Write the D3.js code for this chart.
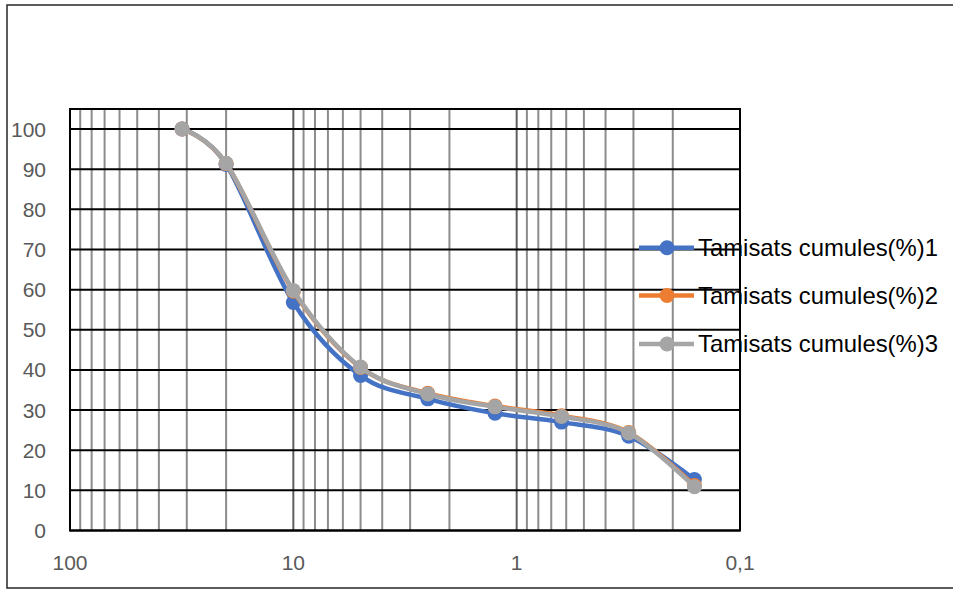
<!DOCTYPE html>
<html lang="fr">
<head>
<meta charset="utf-8">
<title>Tamisats cumules</title>
<script src="https://d3js.org/d3.v7.min.js"></script>
<style>
  body { margin: 0; background: #fff; }
  text { font-family: "Liberation Sans", Arial, sans-serif; }
</style>
</head>
<body>
<script>
// sieve sizes (mm) and cumulative passing (%)
var sizes = [31.5, 20, 10, 5, 2.5, 1.25, 0.63, 0.315, 0.16];
var serie1 = [100, 91.2, 56.8, 38.6, 32.8, 29.2, 27.0, 23.5, 12.7];
var serie2 = [100, 91.4, 59.6, 40.6, 34.2, 31.0, 28.6, 24.4, 11.2];
var serie3 = [100, 91.5, 59.8, 40.7, 34.0, 30.8, 28.4, 24.3, 10.9];
var names = ["Tamisats cumules(%)1", "Tamisats cumules(%)2", "Tamisats cumules(%)3"];
var colors = ["#4472C4", "#ED7D31", "#A5A5A5"];
var xTicks = [100, 10, 1, 0.1];
var xTickLabels = ["100", "10", "1", "0,1"];
var yTicks = [0, 10, 20, 30, 40, 50, 60, 70, 80, 90, 100];

var w = 953, h = 590;
var svg = d3.select("body").append("svg").attr("width", w).attr("height", h);

// outer frame (right side runs off the picture)
svg.append("rect").attr("x", 7).attr("y", 5).attr("width", 960).attr("height", 583)
  .attr("fill", "none").attr("stroke", "#262626").attr("stroke-width", 1.5);

var pLeft = 70, pRight = 740, pTop = 109, pBottom = 530.5;
var x = d3.scaleLog().domain([100, 0.1]).range([pLeft, pRight]);
var y = d3.scaleLinear().domain([0, 105]).range([pBottom, pTop]);

// minor vertical gridlines
var minor = [];
[0.1, 1, 10].forEach(function(d) {
  for (var k = 2; k <= 9; k++) minor.push(d * k);
});
svg.append("g").selectAll("line").data(minor).enter().append("line")
  .attr("x1", d => x(d)).attr("x2", d => x(d)).attr("y1", pTop).attr("y2", pBottom)
  .attr("stroke", "#8c8c8c").attr("stroke-width", 2);
svg.append("g").selectAll("line").data([10, 1]).enter().append("line")
  .attr("x1", d => x(d)).attr("x2", d => x(d)).attr("y1", pTop).attr("y2", pBottom)
  .attr("stroke", "#5f5f5f").attr("stroke-width", 2);

// horizontal gridlines
svg.append("g").selectAll("line").data(yTicks).enter().append("line")
  .attr("x1", pLeft).attr("x2", pRight).attr("y1", d => y(d)).attr("y2", d => y(d))
  .attr("stroke", "#000").attr("stroke-width", 2);

svg.append("rect").attr("x", pLeft).attr("y", pTop).attr("width", pRight - pLeft).attr("height", pBottom - pTop)
  .attr("fill", "none").attr("stroke", "#000").attr("stroke-width", 2);

// axis labels
svg.append("g").selectAll("text").data(yTicks).enter().append("text")
  .attr("x", 46).attr("y", d => y(d)).attr("dy", "0.36em")
  .attr("text-anchor", "end").attr("font-size", 21).attr("fill", "#595959")
  .text(d => d);
svg.append("g").selectAll("text").data(xTicks).enter().append("text")
  .attr("x", d => x(d)).attr("y", 562).attr("dy", "0.36em")
  .attr("text-anchor", "middle").attr("font-size", 21).attr("fill", "#595959")
  .text((d, i) => xTickLabels[i]);

// series
var series = [serie1, serie2, serie3];
var line = d3.line().x(d => x(d[0])).y(d => y(d[1])).curve(d3.curveCardinal.tension(0));
series.forEach(function(vals, i) {
  var pts = sizes.map((s, j) => [s, vals[j]]);
  var g = svg.append("g");
  g.append("path").datum(pts).attr("d", line).attr("fill", "none")
    .attr("stroke", colors[i]).attr("stroke-width", 4.5).attr("stroke-linejoin", "round");
  g.selectAll("circle").data(pts).enter().append("circle")
    .attr("cx", d => x(d[0])).attr("cy", d => y(d[1])).attr("r", 7.5)
    .attr("fill", colors[i]);
});

// legend
var legY = [247.7, 295.5, 344];
names.forEach(function(n, i) {
  var g = svg.append("g");
  g.append("line").attr("x1", 639).attr("x2", 694).attr("y1", legY[i]).attr("y2", legY[i])
    .attr("stroke", colors[i]).attr("stroke-width", 4.5);
  g.append("circle").attr("cx", 667).attr("cy", legY[i]).attr("r", 7.5).attr("fill", colors[i]);
  g.append("text").attr("x", 698).attr("y", legY[i] + 8)
    .attr("font-size", 24).attr("fill", "#000")
    .attr("textLength", 240).attr("lengthAdjust", "spacingAndGlyphs")
    .text(n);
});
</script>
</body>
</html>
